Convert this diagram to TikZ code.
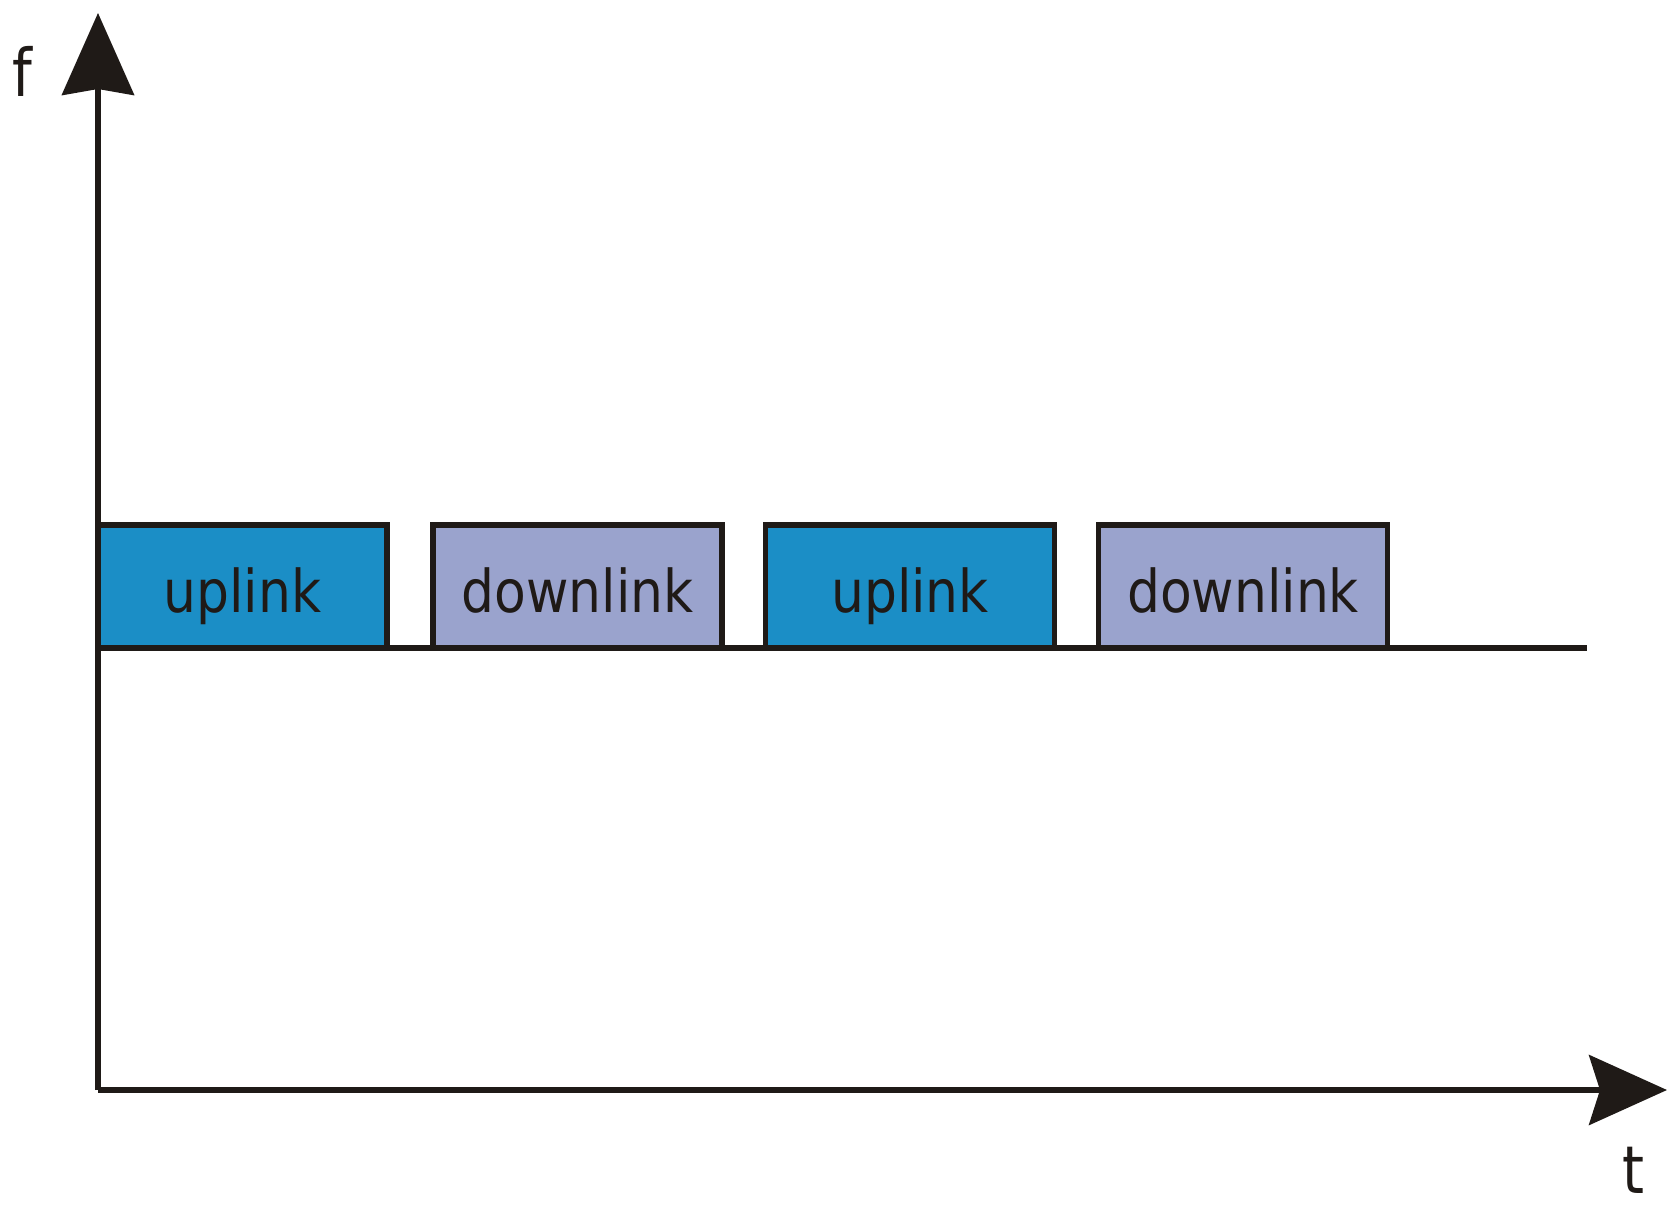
\documentclass[tikz,border=0pt]{standalone}
\usepackage{fontspec}
\setmainfont{DejaVu Sans}
\usetikzlibrary{arrows.meta}
\definecolor{ink}{HTML}{1F1A17}
\definecolor{upcol}{HTML}{1B8EC6}
\definecolor{downcol}{HTML}{9AA3CD}
\tikzset{
  axis/.style={draw=ink, line width=5.3pt},
  slot/.style={draw=ink, line width=5.3pt, rectangle, inner sep=0pt,
    minimum width=289pt, minimum height=123pt,
    text height=60pt, text depth=9pt, text=ink,
    font=\fontsize{59}{60}\selectfont},
  upslot/.style={slot, fill=upcol},
  downslot/.style={slot, fill=downcol},
  axislabel/.style={text=ink, inner sep=0pt, anchor=base, font=\fontsize{66}{68}\selectfont}
}
\newcommand{\slottext}[1]{\scalebox{0.88}[1]{#1}}
\begin{document}
\begin{tikzpicture}[x=1pt,y=-1pt]
  \useasboundingbox (0,0) rectangle (1668,1209);
  % axes
  \coordinate (O) at (98,1090);
  \coordinate (ytip) at (98,13);
  \coordinate (xtip) at (1667,1090);
  \draw[axis, -{Stealth[length=82pt,width=72pt,inset=6pt]}] (O) -- (ytip);
  \draw[axis, -{Stealth[length=78pt,width=70pt,inset=11pt]}] (O) -- (xtip);
  \node[axislabel] (flab) at (22,97) {\scalebox{0.85}[1]{f}};
  \node[axislabel] (tlab) at (1633,1193) {\scalebox{0.85}[1]{t}};
  % time line carrying the slots
  \coordinate (line0) at (98,648);
  \coordinate (line1) at (1587,648);
  \draw[axis] (line0) -- (line1);
  % alternating slots
  \node[upslot]   (s1) at (242.5,586.5) {\slottext{uplink}};
  \node[downslot] (s2) at (577.5,586.5) {\slottext{downlink}};
  \node[upslot]   (s3) at (910,586.5)   {\slottext{uplink}};
  \node[downslot] (s4) at (1243,586.5)  {\slottext{downlink}};
\end{tikzpicture}
\end{document}
